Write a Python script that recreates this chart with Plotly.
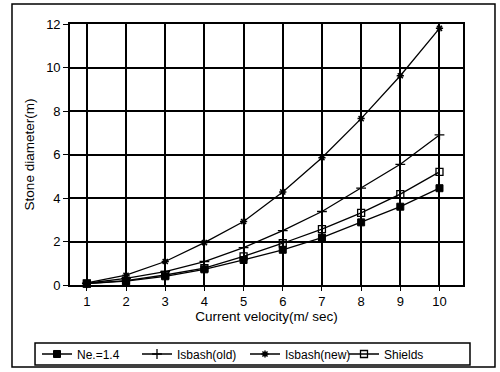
import plotly.graph_objects as go

velocity = [1, 2, 3, 4, 5, 6, 7, 8, 9, 10]
ne_14 = [0.06, 0.18, 0.40, 0.72, 1.15, 1.62, 2.18, 2.88, 3.60, 4.45]
isbash_old = [0.08, 0.30, 0.62, 1.08, 1.72, 2.50, 3.38, 4.45, 5.55, 6.90]
isbash_new = [0.10, 0.45, 1.08, 1.95, 2.92, 4.28, 5.85, 7.65, 9.62, 11.80]
shields = [0.07, 0.20, 0.46, 0.78, 1.32, 1.92, 2.57, 3.32, 4.18, 5.20]

x_ticks = [1, 2, 3, 4, 5, 6, 7, 8, 9, 10]
y_ticks = [0, 2, 4, 6, 8, 10, 12]

FONT = "Liberation Sans, Arial, sans-serif"

fig = go.Figure()
series = [
    ("Ne.=1.4", ne_14, "square", 7, 1, "legend"),
    ("Isbash(old)", isbash_old, "cross-thin-open", 7, 1.3, "legend2"),
    ("Isbash(new)", isbash_new, "asterisk-open", 6, 1.5, "legend3"),
    ("Shields", shields, "square-open", 7, 1.3, "legend4"),
]
for name, vals, sym, size, mlw, lg in series:
    fig.add_trace(go.Scatter(
        x=velocity, y=vals, name=name, mode="lines+markers",
        line=dict(color="black", width=1.3),
        marker=dict(symbol=sym, size=size, color="black",
                    line=dict(color="black", width=mlw)),
        cliponaxis=False, legend=lg,
    ))

def leg(xfrac):
    return dict(
        orientation="h", xref="container", yref="container",
        x=xfrac, y=0.0484, xanchor="left", yanchor="middle",
        borderwidth=0, bgcolor="rgba(0,0,0,0)",
        font=dict(size=12, family=FONT), itemwidth=30,
    )

fig.update_layout(
    template="none",
    width=500, height=372,
    margin=dict(l=70, r=37, t=24, b=87),
    paper_bgcolor="white", plot_bgcolor="white",
    font=dict(family=FONT, size=13, color="black"),
    showlegend=True,
    legend=leg(0.074), legend2=leg(0.274), legend3=leg(0.49), legend4=leg(0.688),
    xaxis=dict(
        range=[0.57, 10.6], tickvals=x_ticks, ticktext=[str(v) for v in x_ticks],
        automargin=False,
        showgrid=True, gridcolor="black", gridwidth=1.5,
        showline=True, linecolor="black", linewidth=1.6, mirror=True,
        ticks="outside", ticklen=4, tickcolor="black", zeroline=False,
        tickfont=dict(size=13),
        title=dict(text="Current velocity(m/ sec)", font=dict(size=13.5), standoff=2),
    ),
    yaxis=dict(
        range=[0, 12], tickvals=y_ticks, automargin=False,
        showgrid=True, gridcolor="black", gridwidth=1.5,
        showline=True, linecolor="black", linewidth=1.6, mirror=True,
        ticks="outside", ticklen=5, tickcolor="black", zeroline=False,
        tickfont=dict(size=13),
        title=dict(text="Stone diameter(m)", font=dict(size=13.5), standoff=8),
    ),
    shapes=[
        dict(type="rect", xref="paper", yref="paper",
             x0=-0.1476, x1=1.0814, y0=-0.314, y1=1.0766,
             line=dict(color="black", width=1.5), layer="below"),
        dict(type="rect", xref="paper", yref="paper",
             x0=-0.089, x1=1.0178, y0=-0.3065, y1=-0.2222,
             line=dict(color="black", width=1.5), layer="below"),
    ],
)

fig.write_html("out.html")
